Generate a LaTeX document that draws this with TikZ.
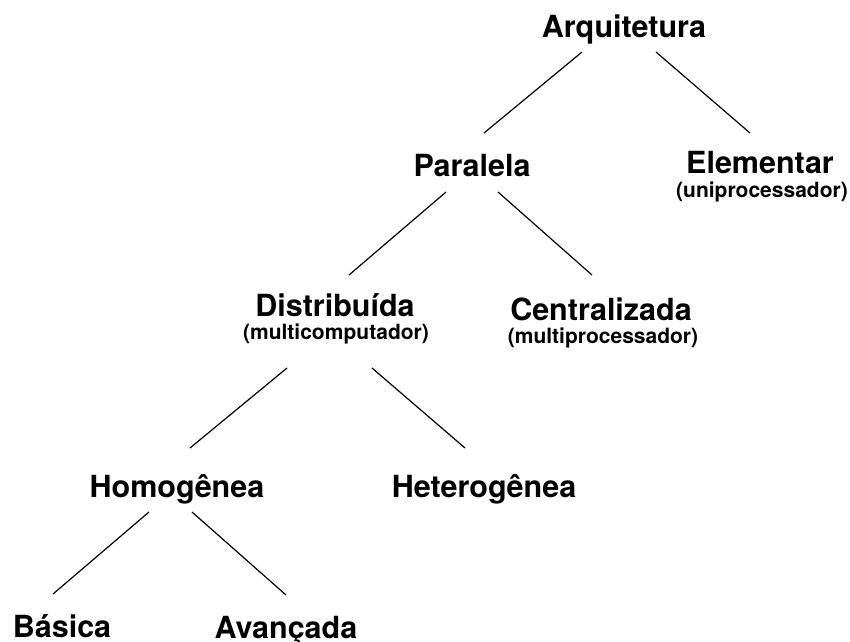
\documentclass[tikz,border=0pt]{standalone}
\usepackage{fontspec}
\setmainfont{TeX Gyre Heros}
\tikzset{
  lbl/.style={font=\fontsize{30.5}{36}\selectfont\bfseries, anchor=base, inner sep=0pt},
  subtitle/.style={font=\fontsize{21}{24}\selectfont\bfseries, anchor=base, inner sep=0pt},
  branch/.style={line width=1.2pt}
}
\begin{document}
\begin{tikzpicture}[x=1pt,y=-1pt]
\useasboundingbox (0,0) rectangle (850,641);

\node[lbl] (arq) at (624,37) {Arquitetura};
\node[lbl] (par) at (472,176) {Paralela};
\node[lbl] (ele) at (760,173) {Elementar};
\node[subtitle] (elesub) at (762,197) {(uniprocessador)};
\node[lbl] (dis) at (335,316) {Distribuída};
\node[subtitle] (dissub) at (336,339) {(multicomputador)};
\node[lbl] (cen) at (601,320) {Centralizada};
\node[subtitle] (censub) at (603,343) {(multiprocessador)};
\node[lbl] (hom) at (177,497) {Homogênea};
\node[lbl] (het) at (484,497) {Heterogênea};
\node[lbl] (bas) at (62,637) {Básica};
\node[lbl] (ava) at (286,638) {Avançada};

\draw[branch] ([shift={(-42,15)}]arq.base) -- ([shift={(12,-43)}]par.base);
\draw[branch] ([shift={(32,15)}]arq.base) -- ([shift={(-10,-40)}]ele.base);
\draw[branch] ([shift={(-26,16)}]par.base) -- ([shift={(14,-41)}]dis.base);
\draw[branch] ([shift={(26,16)}]par.base) -- ([shift={(-9,-45)}]cen.base);
\draw[branch] ([shift={(-49,29)}]dissub.base) -- ([shift={(13,-49)}]hom.base);
\draw[branch] ([shift={(36,29)}]dissub.base) -- ([shift={(-19,-49)}]het.base);
\draw[branch] ([shift={(-28,15)}]hom.base) -- ([shift={(-9,-43)}]bas.base);
\draw[branch] ([shift={(15,15)}]hom.base) -- ([shift={(0,-43)}]ava.base);
\end{tikzpicture}
\end{document}
